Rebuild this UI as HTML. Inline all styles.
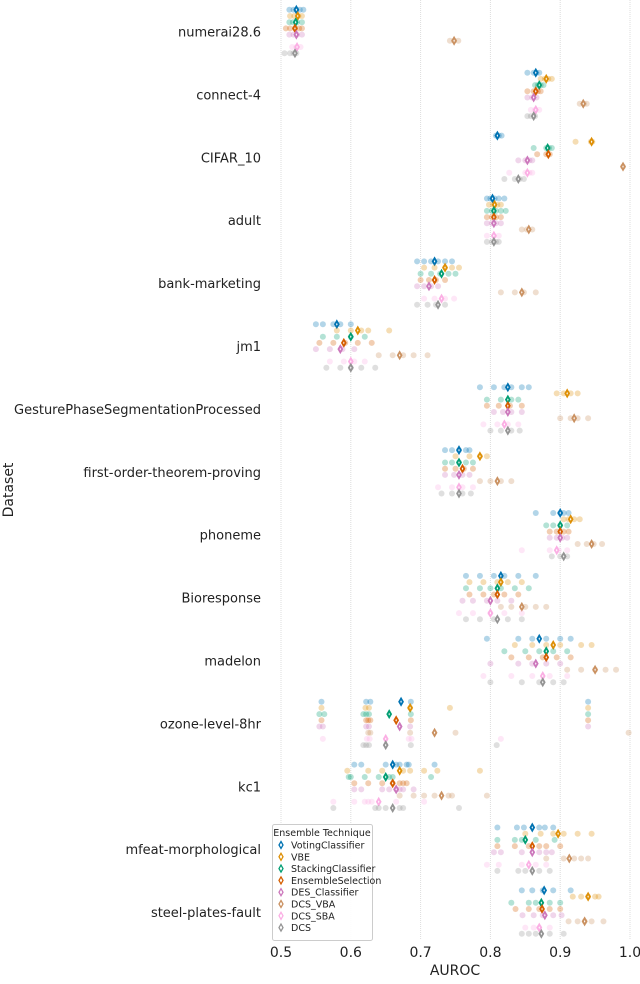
<!DOCTYPE html>
<html><head><meta charset="utf-8"><style>
body{margin:0;background:#fff;width:640px;height:979px;overflow:hidden;font-family:"Liberation Sans","DejaVu Sans",sans-serif}
</style></head><body>
<svg id="chart" width="640" height="979" xmlns="http://www.w3.org/2000/svg" font-family="DejaVu Sans, Liberation Sans, sans-serif">
<g id="grid"></g>
<g id="marks"></g>
<g id="ylabels"></g>
<g id="xlabels"></g>
<text x="455" y="975" font-size="14" text-anchor="middle" fill="#222">AUROC</text>
<text x="13" y="490" font-size="14" text-anchor="middle" fill="#222" transform="rotate(-90 13 490)">Dataset</text>
<g id="legend"></g>
</svg>
<script>
const datasets=["numerai28.6","connect-4","CIFAR_10","adult","bank-marketing","jm1","GesturePhaseSegmentationProcessed","first-order-theorem-proving","phoneme","Bioresponse","madelon","ozone-level-8hr","kc1","mfeat-morphological","steel-plates-fault"];
const techniques=["VotingClassifier","VBE","StackingClassifier","EnsembleSelection","DES_Classifier","DCS_VBA","DCS_SBA","DCS"];
const colors=["#0173b2","#de8f05","#029e73","#d55e00","#cc78bc","#ca9161","#fbafe4","#949494"];
const xTicks=[0.5,0.6,0.7,0.8,0.9,1.0];
const xTickLabels=["0.5","0.6","0.7","0.8","0.9","1.0"];
const means=[
[0.522,0.524,0.521,0.520,0.522,0.748,0.523,0.520],
[0.865,0.880,0.870,0.865,0.862,0.933,0.865,0.862],
[0.810,0.945,0.882,0.883,0.853,0.990,0.853,0.840],
[0.803,0.806,0.805,0.805,0.805,0.855,0.805,0.805],
[0.720,0.735,0.730,0.720,0.712,0.845,0.730,0.725],
[0.580,0.610,0.600,0.590,0.585,0.670,0.600,0.600],
[0.825,0.910,0.825,0.825,0.825,0.920,0.820,0.825],
[0.755,0.785,0.755,0.760,0.755,0.810,0.755,0.755],
[0.900,0.915,0.900,0.900,0.900,0.945,0.895,0.905],
[0.815,0.815,0.810,0.810,0.800,0.845,0.800,0.810],
[0.870,0.890,0.880,0.880,0.865,0.950,0.875,0.875],
[0.672,0.685,0.655,0.665,0.670,0.720,0.650,0.650],
[0.660,0.670,0.650,0.660,0.665,0.730,0.640,0.660],
[0.860,0.897,0.850,0.860,0.860,0.913,0.855,0.860],
[0.877,0.940,0.873,0.874,0.878,0.935,0.870,0.873]];
const points=[
[[0.512,0.518,0.522,0.527,0.532],[0.513,0.519,0.525,0.530],[0.512,0.517,0.523,0.530],[0.507,0.513,0.520,0.526,0.530],[0.512,0.518,0.523,0.530],[0.742,0.748,0.754],[0.516,0.522,0.528],[0.505,0.513,0.518,0.522]],
[[0.853,0.862,0.866,0.870],[0.872,0.878,0.883,0.888],[0.864,0.868,0.872,0.876],[0.853,0.862,0.868,0.872],[0.853,0.860,0.866],[0.928,0.934,0.938],[0.858,0.864,0.870],[0.853,0.858,0.864]],
[[0.808,0.812,0.816],[0.922,0.944,0.946],[0.862,0.880,0.884,0.888],[0.867,0.880,0.885],[0.840,0.850,0.856,0.860],[0.990],[0.827,0.850,0.856,0.860],[0.820,0.835,0.842,0.848]],
[[0.795,0.800,0.806,0.812,0.820],[0.798,0.804,0.810,0.815],[0.795,0.802,0.808,0.815,0.822],[0.795,0.802,0.808,0.815],[0.795,0.802,0.808,0.815],[0.845,0.852,0.860],[0.795,0.805,0.812],[0.795,0.802,0.808,0.812]],
[[0.695,0.705,0.715,0.725,0.735,0.745],[0.705,0.720,0.735,0.745,0.755],[0.700,0.715,0.728,0.740,0.750],[0.700,0.712,0.722,0.735],[0.695,0.705,0.715,0.725],[0.815,0.835,0.848,0.865],[0.705,0.720,0.735,0.748],[0.695,0.710,0.722,0.735]],
[[0.550,0.560,0.575,0.585,0.600],[0.580,0.600,0.615,0.625,0.655],[0.560,0.580,0.600,0.620],[0.555,0.575,0.592,0.610,0.630],[0.550,0.570,0.588,0.605],[0.640,0.660,0.675,0.690,0.710],[0.570,0.590,0.605,0.620],[0.565,0.585,0.600,0.615,0.635]],
[[0.785,0.805,0.820,0.830,0.845,0.855],[0.895,0.905,0.915,0.925],[0.795,0.815,0.830,0.840],[0.795,0.812,0.828,0.845],[0.805,0.818,0.830,0.845],[0.900,0.915,0.925,0.940],[0.790,0.810,0.825,0.840],[0.800,0.815,0.830,0.842]],
[[0.735,0.745,0.755,0.765,0.770],[0.750,0.770,0.785,0.795],[0.735,0.745,0.755,0.765,0.775],[0.735,0.750,0.762,0.775],[0.735,0.748,0.760,0.770],[0.785,0.800,0.815,0.830],[0.725,0.745,0.760,0.775],[0.730,0.745,0.760,0.772]],
[[0.865,0.890,0.900,0.905,0.912],[0.905,0.912,0.920,0.928],[0.880,0.890,0.900,0.910],[0.885,0.895,0.905,0.912],[0.885,0.895,0.903,0.910],[0.925,0.938,0.948,0.960],[0.845,0.885,0.898,0.910],[0.888,0.900,0.910]],
[[0.765,0.785,0.805,0.820,0.840,0.865],[0.770,0.790,0.810,0.825,0.845],[0.765,0.785,0.800,0.815,0.835,0.855],[0.770,0.790,0.805,0.820,0.840],[0.760,0.775,0.795,0.810,0.830],[0.815,0.830,0.850,0.865,0.880],[0.755,0.775,0.800,0.820,0.845],[0.765,0.785,0.805,0.825,0.845]],
[[0.795,0.840,0.860,0.880,0.900,0.915],[0.835,0.860,0.880,0.900,0.930,0.945],[0.820,0.850,0.870,0.890,0.910],[0.830,0.855,0.875,0.895,0.915],[0.800,0.840,0.860,0.880,0.900],[0.910,0.930,0.950,0.965,0.980],[0.790,0.830,0.860,0.885,0.910],[0.800,0.845,0.870,0.890,0.905]],
[[0.558,0.622,0.628,0.686,0.940],[0.558,0.621,0.626,0.685,0.742,0.940],[0.555,0.562,0.618,0.622,0.626,0.686,0.940],[0.558,0.622,0.625,0.628,0.686,0.940],[0.555,0.560,0.622,0.626,0.685,0.940],[0.625,0.628,0.685,0.750,0.998],[0.560,0.623,0.627,0.683,0.687,0.815],[0.618,0.622,0.626,0.686,0.809]],
[[0.605,0.615,0.650,0.665,0.670,0.680,0.683,0.720],[0.595,0.625,0.645,0.675,0.685,0.705,0.724,0.785],[0.597,0.600,0.620,0.640,0.655,0.660,0.715],[0.605,0.625,0.645,0.660,0.670,0.675,0.680],[0.605,0.615,0.645,0.655,0.665,0.670,0.675,0.690],[0.670,0.690,0.705,0.720,0.740,0.745,0.795],[0.575,0.605,0.620,0.625,0.630,0.665,0.705],[0.575,0.635,0.640,0.650,0.670,0.675,0.755]],
[[0.810,0.838,0.848,0.870,0.878,0.890],[0.850,0.872,0.890,0.905,0.925,0.945],[0.810,0.835,0.845,0.865,0.892],[0.810,0.835,0.855,0.870,0.880,0.900],[0.805,0.815,0.845,0.870,0.880,0.888],[0.880,0.905,0.920,0.930,0.940],[0.795,0.812,0.845,0.865,0.880],[0.810,0.840,0.850,0.870,0.885]],
[[0.845,0.860,0.875,0.890,0.915],[0.918,0.930,0.940,0.950,0.955],[0.830,0.855,0.865,0.885,0.900],[0.836,0.855,0.870,0.885,0.900],[0.846,0.862,0.875,0.890,0.902],[0.912,0.925,0.935,0.945,0.962],[0.850,0.862,0.870,0.885],[0.845,0.855,0.865,0.885,0.905]]];
const NS="http://www.w3.org/2000/svg";
function xScale(v){return 281+(v-0.5)*698;}
function yCenter(i){return 31.5+i*62.9;}
function yOff(j){return (j-3.5)*6.2;}
function mk(tag,attrs,parent){const e=document.createElementNS(NS,tag);for(const k in attrs)e.setAttribute(k,attrs[k]);parent.appendChild(e);return e;}
const grid=document.getElementById('grid'),marks=document.getElementById('marks'),yl=document.getElementById('ylabels'),xl=document.getElementById('xlabels');
xTicks.forEach((t,i)=>{
 const l=mk('line',{x1:xScale(t),x2:xScale(t),y1:0,y2:940,stroke:'#dcdcdc','stroke-width':1,'stroke-dasharray':'1,1'},grid);
 
 
 const tx=mk('text',{x:xScale(t),y:957,'font-size':14,'text-anchor':'middle',fill:'#222'},xl);
 tx.textContent=xTickLabels[i];
 
 
});
datasets.forEach((d,i)=>{
 const t=mk('text',{x:261,y:yCenter(i)+5,'font-size':13,'text-anchor':'end',fill:'#222'},yl);
 t.textContent=d;
 
 
 techniques.forEach((tech,j)=>{
  const y=yCenter(i)+yOff(j);
  points[i][j].forEach(v=>{
   const c=mk('circle',{cx:xScale(v),cy:y,r:3,fill:colors[j],'fill-opacity':0.3},marks);
   
   
  });
  const x=xScale(means[i][j]);
  const p=mk('path',{d:`M${x},${y-3.8}L${x+2.2},${y}L${x},${y+3.8}L${x-2.2},${y}Z`,fill:colors[j],stroke:colors[j],'stroke-width':1.2},marks);
  
  
  const q=mk('path',{d:`M${x},${y-1.4}L${x+0.7},${y}L${x},${y+1.4}L${x-0.7},${y}Z`,fill:'#fff'},marks);
  
  
 });
});
const lg=document.getElementById('legend');
mk('rect',{x:272.5,y:824.5,width:100,height:116,rx:2,fill:'#fff','fill-opacity':0.9,stroke:'#ccc'},lg);
const lt=mk('text',{x:322,y:836,'font-size':9.5,'text-anchor':'middle',fill:'#222'},lg);lt.textContent="Ensemble Technique";
techniques.forEach((tech,j)=>{
 const y=845+j*11.8;
 const p=mk('path',{d:`M281,${y-3.5}L283,${y}L281,${y+3.5}L279,${y}Z`,fill:'#fff',stroke:colors[j],'stroke-width':1.3},lg);
 
 
 const t=mk('text',{x:291,y:y+3.5,'font-size':9.5,fill:'#222'},lg);
 t.textContent=tech;
 
 
});
</script>
</body></html>
